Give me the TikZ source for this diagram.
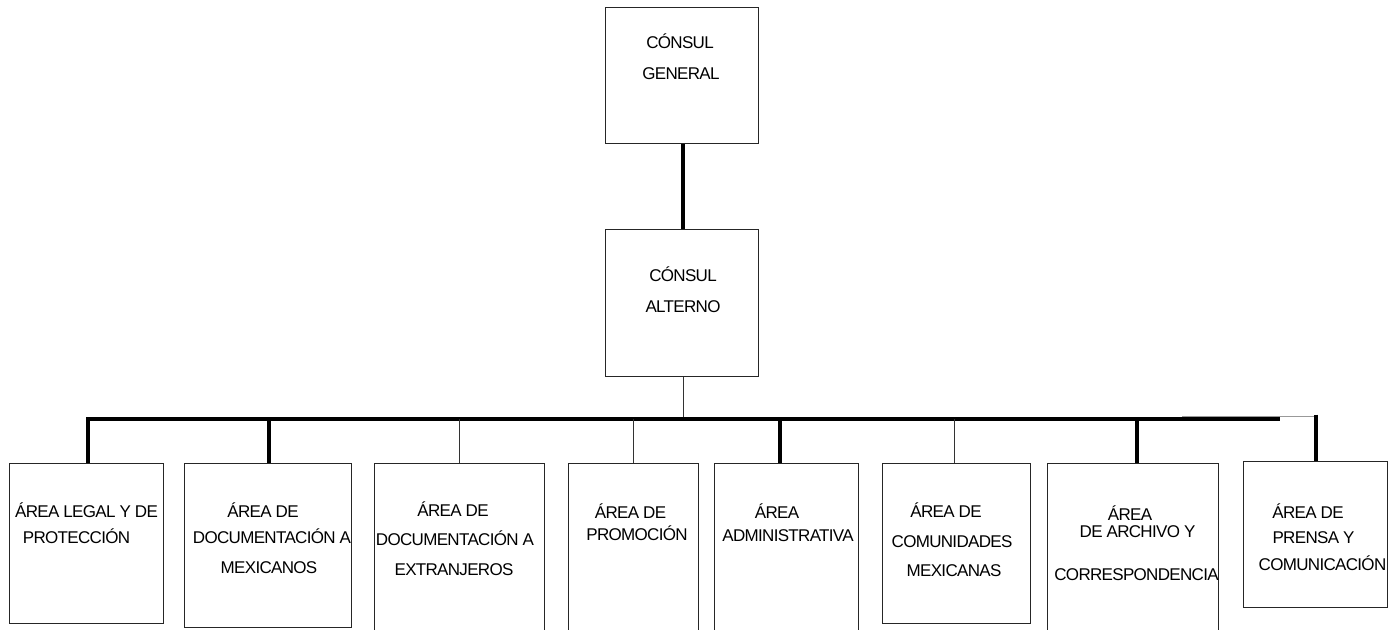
\documentclass[tikz,border=0pt]{standalone}
\usepackage{fontspec}
\setmainfont{Liberation Sans}
\newfontfamily\lblfont[LetterSpace=-4]{Liberation Sans}
\begin{document}
\begin{tikzpicture}[x=1pt,y=-1pt,
  box/.style={draw=black!85,line width=1pt,fill=white},
  lbl/.style={anchor=base,inner sep=0pt,font=\lblfont\fontsize{17}{17}\selectfont},
  thickline/.style={line width=4pt,black},
  thinline/.style={line width=1pt,black!80},
  greyline/.style={line width=1pt,black!40}]
\useasboundingbox (0,0) rectangle (1397,629);
% junction coordinates
\coordinate (jl) at (86,419);
\coordinate (jr) at (1280,419);
\coordinate (jm) at (683,419);
\coordinate (j1) at (88,419);
\coordinate (j2) at (269,419);
\coordinate (j3) at (459,419);
\coordinate (j4) at (633,419);
\coordinate (j5) at (780,419);
\coordinate (j6) at (954,419);
\coordinate (j7) at (1137,419);
\coordinate (g1) at (1182,416);
\coordinate (g2) at (1316,416);
% boxes
\node[box,minimum width=153pt,minimum height=136pt,anchor=north west] (b0) at (605,7) {};
\node[box,minimum width=153pt,minimum height=147pt,anchor=north west] (b1) at (605,229) {};
\node[box,minimum width=154pt,minimum height=160pt,anchor=north west] (c1) at (9,463) {};
\node[box,minimum width=167pt,minimum height=164pt,anchor=north west] (c2) at (184,463) {};
\node[box,minimum width=170pt,minimum height=180pt,anchor=north west] (c3) at (374,463) {};
\node[box,minimum width=130pt,minimum height=180pt,anchor=north west] (c4) at (568,463) {};
\node[box,minimum width=144pt,minimum height=180pt,anchor=north west] (c5) at (714,463) {};
\node[box,minimum width=148pt,minimum height=160pt,anchor=north west] (c6) at (882,463) {};
\node[box,minimum width=171pt,minimum height=180pt,anchor=north west] (c7) at (1047,463) {};
\node[box,minimum width=144pt,minimum height=146pt,anchor=north west] (c8) at (1243,461) {};
% connectors
\draw[thickline] (b0.south -| jm) -- (b1.north -| jm);
\draw[thinline] (b1.south -| jm) -- (jm);
\draw[greyline] (g1) -- (g2);
\draw[thickline] (jl) -- (jr);
\draw[thickline] (j1) -- (j1 |- c1.north);
\draw[thickline] (j2) -- (j2 |- c2.north);
\draw[thinline] (j3) -- (j3 |- c3.north);
\draw[thinline] (j4) -- (j4 |- c4.north);
\draw[thickline] (j5) -- (j5 |- c5.north);
\draw[thinline] (j6) -- (j6 |- c6.north);
\draw[thickline] (j7) -- (j7 |- c7.north);
\draw[thickline] ([yshift=1.5pt]g2) -- (g2 |- c8.north);
% labels
\node[lbl] (t0a) at (680,48) {CÓNSUL};
\node[lbl] (t0b) at (681,79) {GENERAL};
\node[lbl] (t1a) at (683,281) {CÓNSUL};
\node[lbl] (t1b) at (683,312) {ALTERNO};
\node[lbl] (c1a) at (86.5,517) {ÁREA LEGAL Y DE};
\node[lbl] (c1b) at (76.5,543) {PROTECCIÓN};
\node[lbl] (c2a) at (263,517) {ÁREA DE};
\node[lbl] (c2b) at (272,543) {DOCUMENTACIÓN A};
\node[lbl] (c2c) at (269,573) {MEXICANOS};
\node[lbl] (c3a) at (453,516) {ÁREA DE};
\node[lbl] (c3b) at (455,545) {DOCUMENTACIÓN A};
\node[lbl] (c3c) at (454,575) {EXTRANJEROS};
\node[lbl] (c4a) at (630.5,518) {ÁREA DE};
\node[lbl] (c4b) at (637,540) {PROMOCIÓN};
\node[lbl] (c5a) at (777,518) {ÁREA};
\node[lbl] (c5b) at (788,541) {ADMINISTRATIVA};
\node[lbl] (c6a) at (946,517) {ÁREA DE};
\node[lbl] (c6b) at (952,547) {COMUNIDADES};
\node[lbl] (c6c) at (954,576) {MEXICANAS};
\node[lbl] (c7a) at (1130,520) {ÁREA};
\node[lbl] (c7b) at (1137.5,537) {DE ARCHIVO Y};
\node[lbl] (c7c) at (1136.5,580) {CORRESPONDENCIA};
\node[lbl] (c8a) at (1308,518) {ÁREA DE};
\node[lbl] (c8b) at (1313.5,543) {PRENSA Y};
\node[lbl] (c8c) at (1322.5,570) {COMUNICACIÓN};
\end{tikzpicture}
\end{document}
